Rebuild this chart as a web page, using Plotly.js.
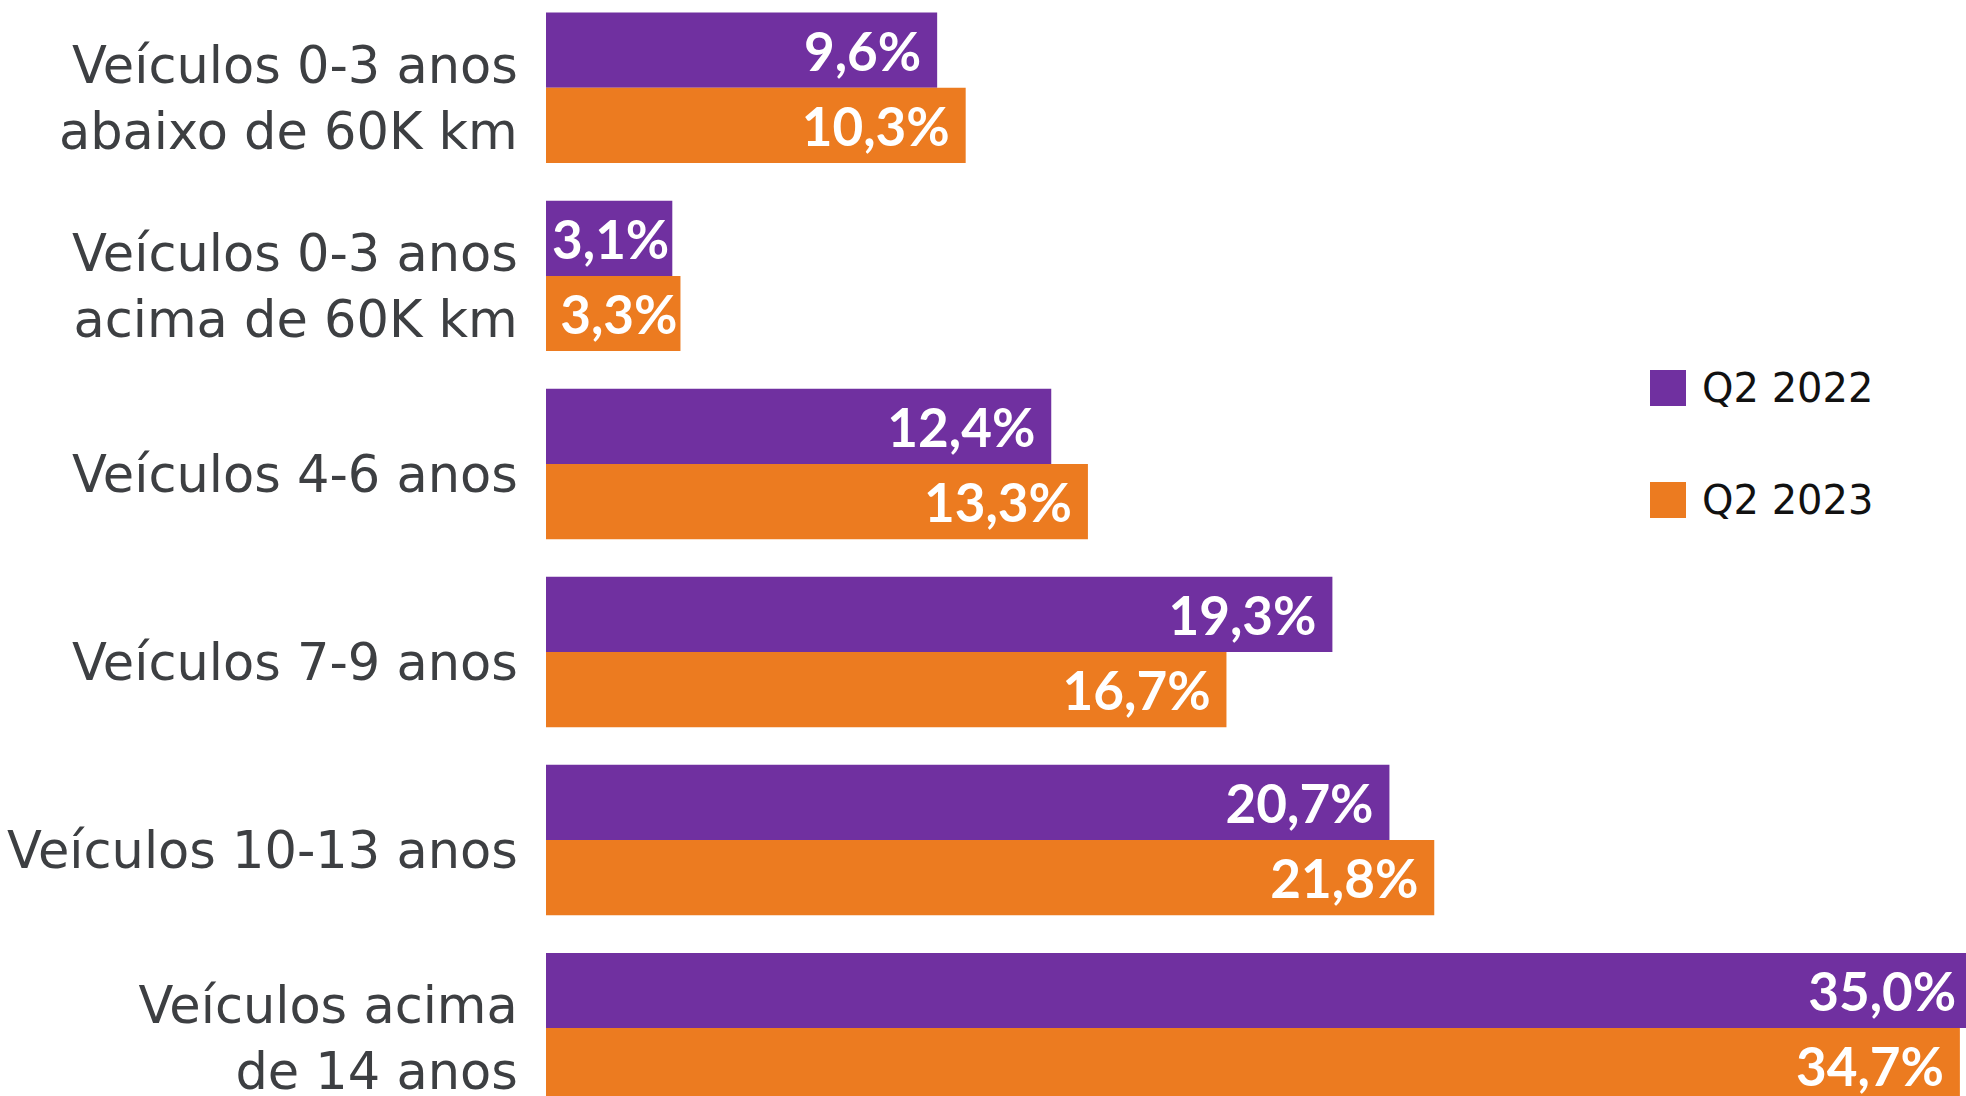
<!DOCTYPE html>
<html>
<head>
<meta charset="utf-8">
<script src="https://cdn.plot.ly/plotly-3.0.1.min.js"></script>
<style>
  html, body { margin: 0; padding: 0; background: #ffffff; }
  #chart { width: 1966px; height: 1096px; }
</style>
</head>
<body>
<div id="chart"></div>
<script>
// ---- data ----
const categories = [
  "Veículos 0-3 anos<br>abaixo de 60K km",
  "Veículos 0-3 anos<br>acima de 60K km",
  "Veículos 4-6 anos",
  "Veículos 7-9 anos",
  "Veículos 10-13 anos",
  "Veículos acima<br>de 14 anos"
];
const seriesNames = ["Q2 2022", "Q2 2023"];
const q2_2022 = [9.6, 3.1, 12.4, 19.3, 20.7, 35.0];
const q2_2023 = [10.3, 3.3, 13.3, 16.7, 21.8, 34.7];
const seriesColors = ["#7030a0", "#ec7b20"];

// ---- chart ----
const labelFont = {family: "Lato, 'Liberation Sans', sans-serif", size: 53, color: "#ffffff", weight: "bold"};
function templates(vals) {
  return vals.map(v => v >= 5 ? "%{x:.1f}%\u00a0" : "%{x:.1f}%");
}
function makeTrace(name, vals, color) {
  return {
    type: "bar",
    orientation: "h",
    name: name,
    y: categories,
    x: vals,
    marker: {color: color, line: {width: 0}},
    texttemplate: templates(vals),
    textposition: "inside",
    insidetextanchor: "end",
    textangle: 0,
    constraintext: "none",
    insidetextfont: labelFont,
    hoverinfo: "skip",
    cliponaxis: true
  };
}
const traces = [
  makeTrace(seriesNames[0], q2_2022, seriesColors[0]),
  makeTrace(seriesNames[1], q2_2023, seriesColors[1])
];

// legend drawn as squares + text in paper coordinates
const W = 1966, H = 1096, L = 546;
const px = x => (x - L) / (W - L);
const py = y => 1 - y / H;
const legendRows = [388, 500];
const shapes = legendRows.map((cy, i) => ({
  type: "rect", xref: "paper", yref: "paper",
  x0: px(1650), x1: px(1686), y0: py(cy + 18), y1: py(cy - 18),
  fillcolor: seriesColors[i], line: {width: 0}
}));
const annotations = legendRows.map((cy, i) => ({
  xref: "paper", yref: "paper", x: px(1700), y: py(cy),
  xanchor: "left", yanchor: "middle", showarrow: false,
  text: seriesNames[i],
  font: {family: "DejaVu Sans, sans-serif", size: 40, color: "#111111"}
}));

const layout = {
  width: W, height: H,
  margin: {l: L, r: 0, t: 0, b: 0, pad: 0},
  paper_bgcolor: "#ffffff", plot_bgcolor: "#ffffff",
  barmode: "group", bargap: 0.2, bargroupgap: 0,
  separators: ",.",
  showlegend: false,
  hovermode: false,
  xaxis: {
    range: [0, 34.85], showgrid: false, zeroline: false, showline: false,
    showticklabels: false, ticks: "", fixedrange: true
  },
  yaxis: {
    type: "category", categoryarray: categories, categoryorder: "array",
    range: [5.361, -0.467],
    showgrid: false, zeroline: false, showline: false,
    ticks: "outside", ticklen: 17, tickcolor: "rgba(0,0,0,0)",
    ticklabelshift: -10,
    tickfont: {family: "DejaVu Sans, sans-serif", size: 51, color: "#3d3f42"},
    fixedrange: true
  },
  shapes: shapes,
  annotations: annotations
};

Plotly.newPlot("chart", traces, layout, {displayModeBar: false, staticPlot: true});
</script>
</body>
</html>
